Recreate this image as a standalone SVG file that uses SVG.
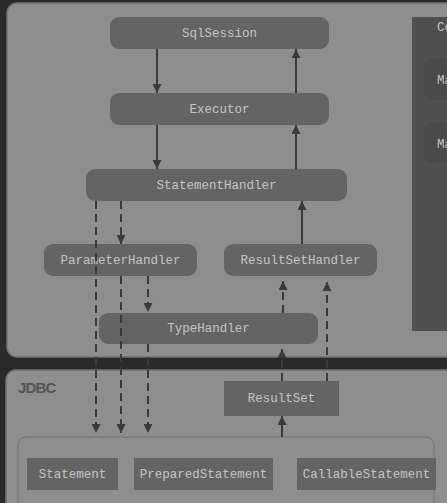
<svg xmlns="http://www.w3.org/2000/svg" width="447" height="503" viewBox="0 0 447 503">
<style>
.box{fill:#646464;}
.t{font-family:"Liberation Mono",monospace;font-size:12.5px;fill:#c4c4c4;text-anchor:middle;dominant-baseline:central;}
.s{stroke:#3a3a3a;stroke-width:2;fill:none;}
.d{stroke:#3a3a3a;stroke-width:2;fill:none;stroke-dasharray:8 5;}
.frame{fill:#8e8e8e;stroke:#727272;stroke-width:1.5;}
</style>
<defs>
<marker id="ah" viewBox="0 0 10 10" refX="10" refY="5" markerWidth="4.5" markerHeight="4.5" orient="auto" markerUnits="strokeWidth">
<path d="M0,0 L10,5 L0,10 z" fill="#3a3a3a"/>
</marker>
</defs>
<rect x="0" y="0" width="447" height="503" fill="#2a2a2a"/>
<g id="core-frame">
<rect x="7" y="3" width="460" height="354" rx="10" class="frame"/>
</g>
<g id="jdbc-frame">
<rect x="6" y="370" width="460" height="150" rx="10" class="frame"/>
<text x="18" y="387" font-family="Liberation Sans,Arial,sans-serif" font-size="15" font-weight="bold" fill="#555" dominant-baseline="central" letter-spacing="-0.8">JDBC</text>
</g>
<g id="jdbc-inner">
<rect x="18" y="437" width="416" height="80" rx="8" fill="#8e8e8e" stroke="#727272" stroke-width="1"/>
</g>
<g id="config-panel">
<rect x="412" y="17" width="40" height="314" fill="#505050"/>
<rect x="424" y="59" width="40" height="41" rx="8" fill="#4a4a4a"/>
<rect x="424" y="123" width="40" height="40" rx="8" fill="#4a4a4a"/>
<text x="437" y="28" class="t" style="text-anchor:start">Co</text>
<text x="437" y="81" class="t" style="text-anchor:start">Ma</text>
<text x="437" y="145" class="t" style="text-anchor:start">Ma</text>
</g>
<g id="sqlsession"><rect x="110" y="17" width="219" height="32" rx="9" class="box"/><text x="219.5" y="33.5" class="t">SqlSession</text></g>
<g id="executor"><rect x="110" y="93" width="219" height="32" rx="9" class="box"/><text x="219.5" y="109.5" class="t">Executor</text></g>
<g id="statementhandler"><rect x="86" y="169" width="261" height="32" rx="9" class="box"/><text x="216.5" y="185.5" class="t">StatementHandler</text></g>
<g id="parameterhandler"><rect x="44" y="244" width="153" height="32" rx="9" class="box"/><text x="120.5" y="260.5" class="t">ParameterHandler</text></g>
<g id="resultsethandler"><rect x="224" y="244" width="153" height="32" rx="9" class="box"/><text x="300.5" y="260.5" class="t">ResultSetHandler</text></g>
<g id="typehandler"><rect x="99" y="313" width="219" height="31" rx="9" class="box"/><text x="208.5" y="329" class="t">TypeHandler</text></g>
<g id="resultset"><rect x="224" y="381" width="115" height="35" class="box"/><text x="281.5" y="398.5" class="t">ResultSet</text></g>
<g id="statement"><rect x="27" y="458" width="91" height="32" class="box"/><text x="72.5" y="474.5" class="t">Statement</text></g>
<g id="preparedstatement"><rect x="134" y="458" width="139" height="32" class="box"/><text x="203.5" y="474.5" class="t">PreparedStatement</text></g>
<g id="callablestatement"><rect x="297" y="458" width="139" height="32" class="box"/><text x="366.5" y="474.5" class="t">CallableStatement</text></g>
<g id="connectors">
<line x1="157" y1="49" x2="157" y2="93" class="s" marker-end="url(#ah)"/>
<line x1="296" y1="93" x2="296" y2="49" class="s" marker-end="url(#ah)"/>
<line x1="157" y1="125" x2="157" y2="169" class="s" marker-end="url(#ah)"/>
<line x1="296" y1="169" x2="296" y2="125" class="s" marker-end="url(#ah)"/>
<line x1="302" y1="244" x2="302" y2="201" class="s" marker-end="url(#ah)"/>
<line x1="96" y1="201" x2="96" y2="433" class="d" marker-end="url(#ah)"/>
<line x1="121" y1="201" x2="121" y2="244" class="d" marker-end="url(#ah)"/>
<line x1="121" y1="276" x2="121" y2="433" class="d" marker-end="url(#ah)"/>
<line x1="148" y1="276" x2="148" y2="312" class="d" marker-end="url(#ah)"/>
<line x1="148" y1="344" x2="148" y2="433" class="d" marker-end="url(#ah)"/>
<line x1="283" y1="313" x2="283" y2="281" class="d" marker-end="url(#ah)"/>
<line x1="282" y1="381" x2="282" y2="349" class="d" marker-end="url(#ah)"/>
<line x1="327" y1="381" x2="327" y2="282" class="d" marker-end="url(#ah)"/>
<line x1="282" y1="437" x2="282" y2="416" class="s" marker-end="url(#ah)"/>
</g>
</svg>
